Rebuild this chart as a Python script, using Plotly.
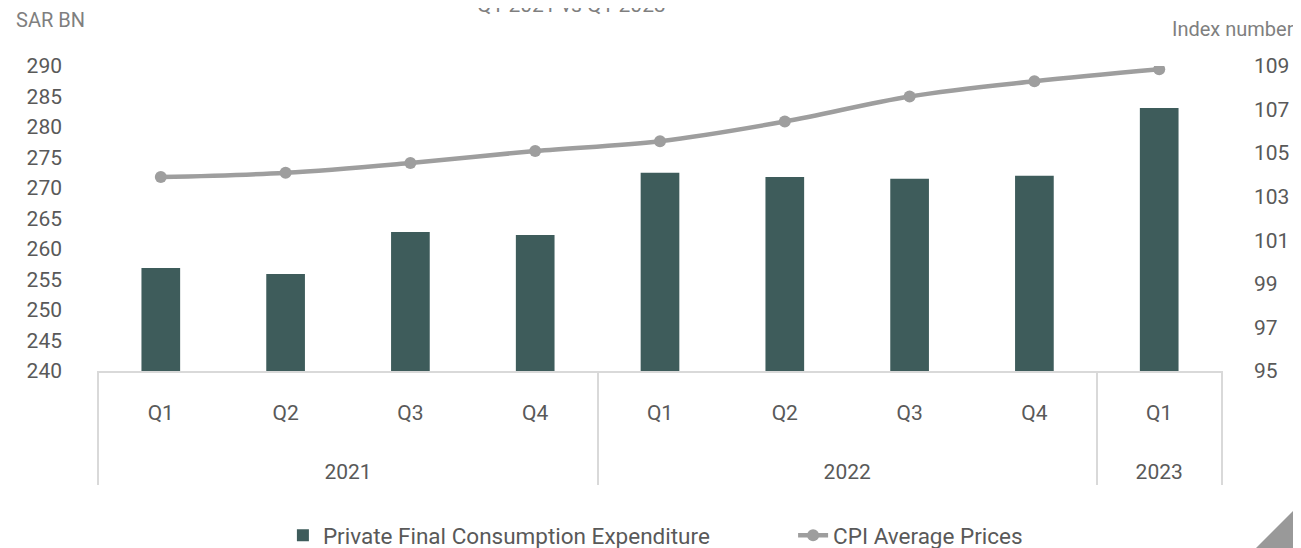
import plotly.graph_objects as go

years = ["2021", "2021", "2021", "2021", "2022", "2022", "2022", "2022", "2023"]
quarters = ["Q1", "Q2", "Q3", "Q4", "Q1", "Q2", "Q3", "Q4", "Q1"]
pfce = [256.9, 255.9, 262.8, 262.3, 272.5, 271.8, 271.5, 272.0, 283.1]
cpi = [103.9, 104.1, 104.55, 105.1, 105.55, 106.45, 107.6, 108.3, 108.85]
left_ticks = [240, 245, 250, 255, 260, 265, 270, 275, 280, 285, 290]
right_ticks = [95, 97, 99, 101, 103, 105, 107, 109]

# year labels pushed down two lines to sit on the second row of the axis
year_labels = ["<br><br>" + y for y in years]

FONT = "Roboto"
BAR = "#3e5c5b"
LINE = "#9e9e9e"
TICK = "#595959"

fig = go.Figure()
fig.add_trace(go.Bar(
    x=[year_labels, quarters], y=pfce, name="Private Final Consumption Expenditure",
    marker=dict(color=BAR, line=dict(width=0)), width=0.31, legend="legend",
))
fig.add_trace(go.Scatter(
    x=[year_labels, quarters], y=cpi, name="CPI Average Prices", yaxis="y2",
    mode="lines+markers", line=dict(color=LINE, width=4.5, shape="spline"),
    marker=dict(color=LINE, size=12), legend="legend2",
))

leg_common = dict(orientation="h", xanchor="left", y=-0.54, yanchor="middle",
                  font=dict(size=22.5, color=TICK), bgcolor="rgba(0,0,0,0)")

fig.update_layout(
    width=1293, height=540,
    margin=dict(l=89, r=78, t=58, b=177, autoexpand=False),
    paper_bgcolor="white", plot_bgcolor="white",
    font=dict(family=FONT, size=21, color=TICK),
    showlegend=True,
    legend=dict(x=0.1651, **leg_common),
    legend2=dict(x=0.6182, **leg_common),
    bargap=0.69,
    xaxis=dict(type="multicategory", showgrid=False, showline=True, linecolor="#d9d9d9",
               linewidth=2, ticks="", showdividers=True, dividercolor="#d9d9d9",
               dividerwidth=2, automargin=False, ticklabelstandoff=22,
               tickfont=dict(size=21, color=TICK)),
    yaxis=dict(range=[240, 290], tickvals=left_ticks, showgrid=False, zeroline=False,
               showline=False, ticks="", ticklabelstandoff=34, automargin=False,
               tickfont=dict(size=21, color=TICK)),
    yaxis2=dict(range=[95, 109], tickvals=right_ticks, overlaying="y", side="right",
                showgrid=False, zeroline=False, showline=False, ticks="", automargin=False,
                ticklabelstandoff=30, tickfont=dict(size=21, color=TICK)),
    annotations=[
        dict(text="SAR BN", xref="paper", yref="paper", x=-0.074, y=1.1508,
             xanchor="left", yanchor="middle", showarrow=False,
             font=dict(size=20, color="#7f7f7f")),
        dict(text="Index number", xref="paper", yref="paper", x=1.0645, y=1.1213,
             xanchor="right", yanchor="middle", showarrow=False,
             font=dict(size=20, color="#7f7f7f")),
        dict(text="Q1 2021 vs Q1 2023", xref="paper", yref="paper", x=0.4218, y=1.2,
             xanchor="center", yanchor="middle", showarrow=False,
             font=dict(size=21, color="#7f7f7f")),
    ],
    shapes=[
        dict(type="path", xref="paper", yref="paper",
             path="M 1.0693 -0.4328 L 1.0693 -0.5803 L 1.0293 -0.5803 Z",
             fillcolor="#999999", line=dict(width=0), layer="above"),
    ],
)

fig.write_html("out.html")
